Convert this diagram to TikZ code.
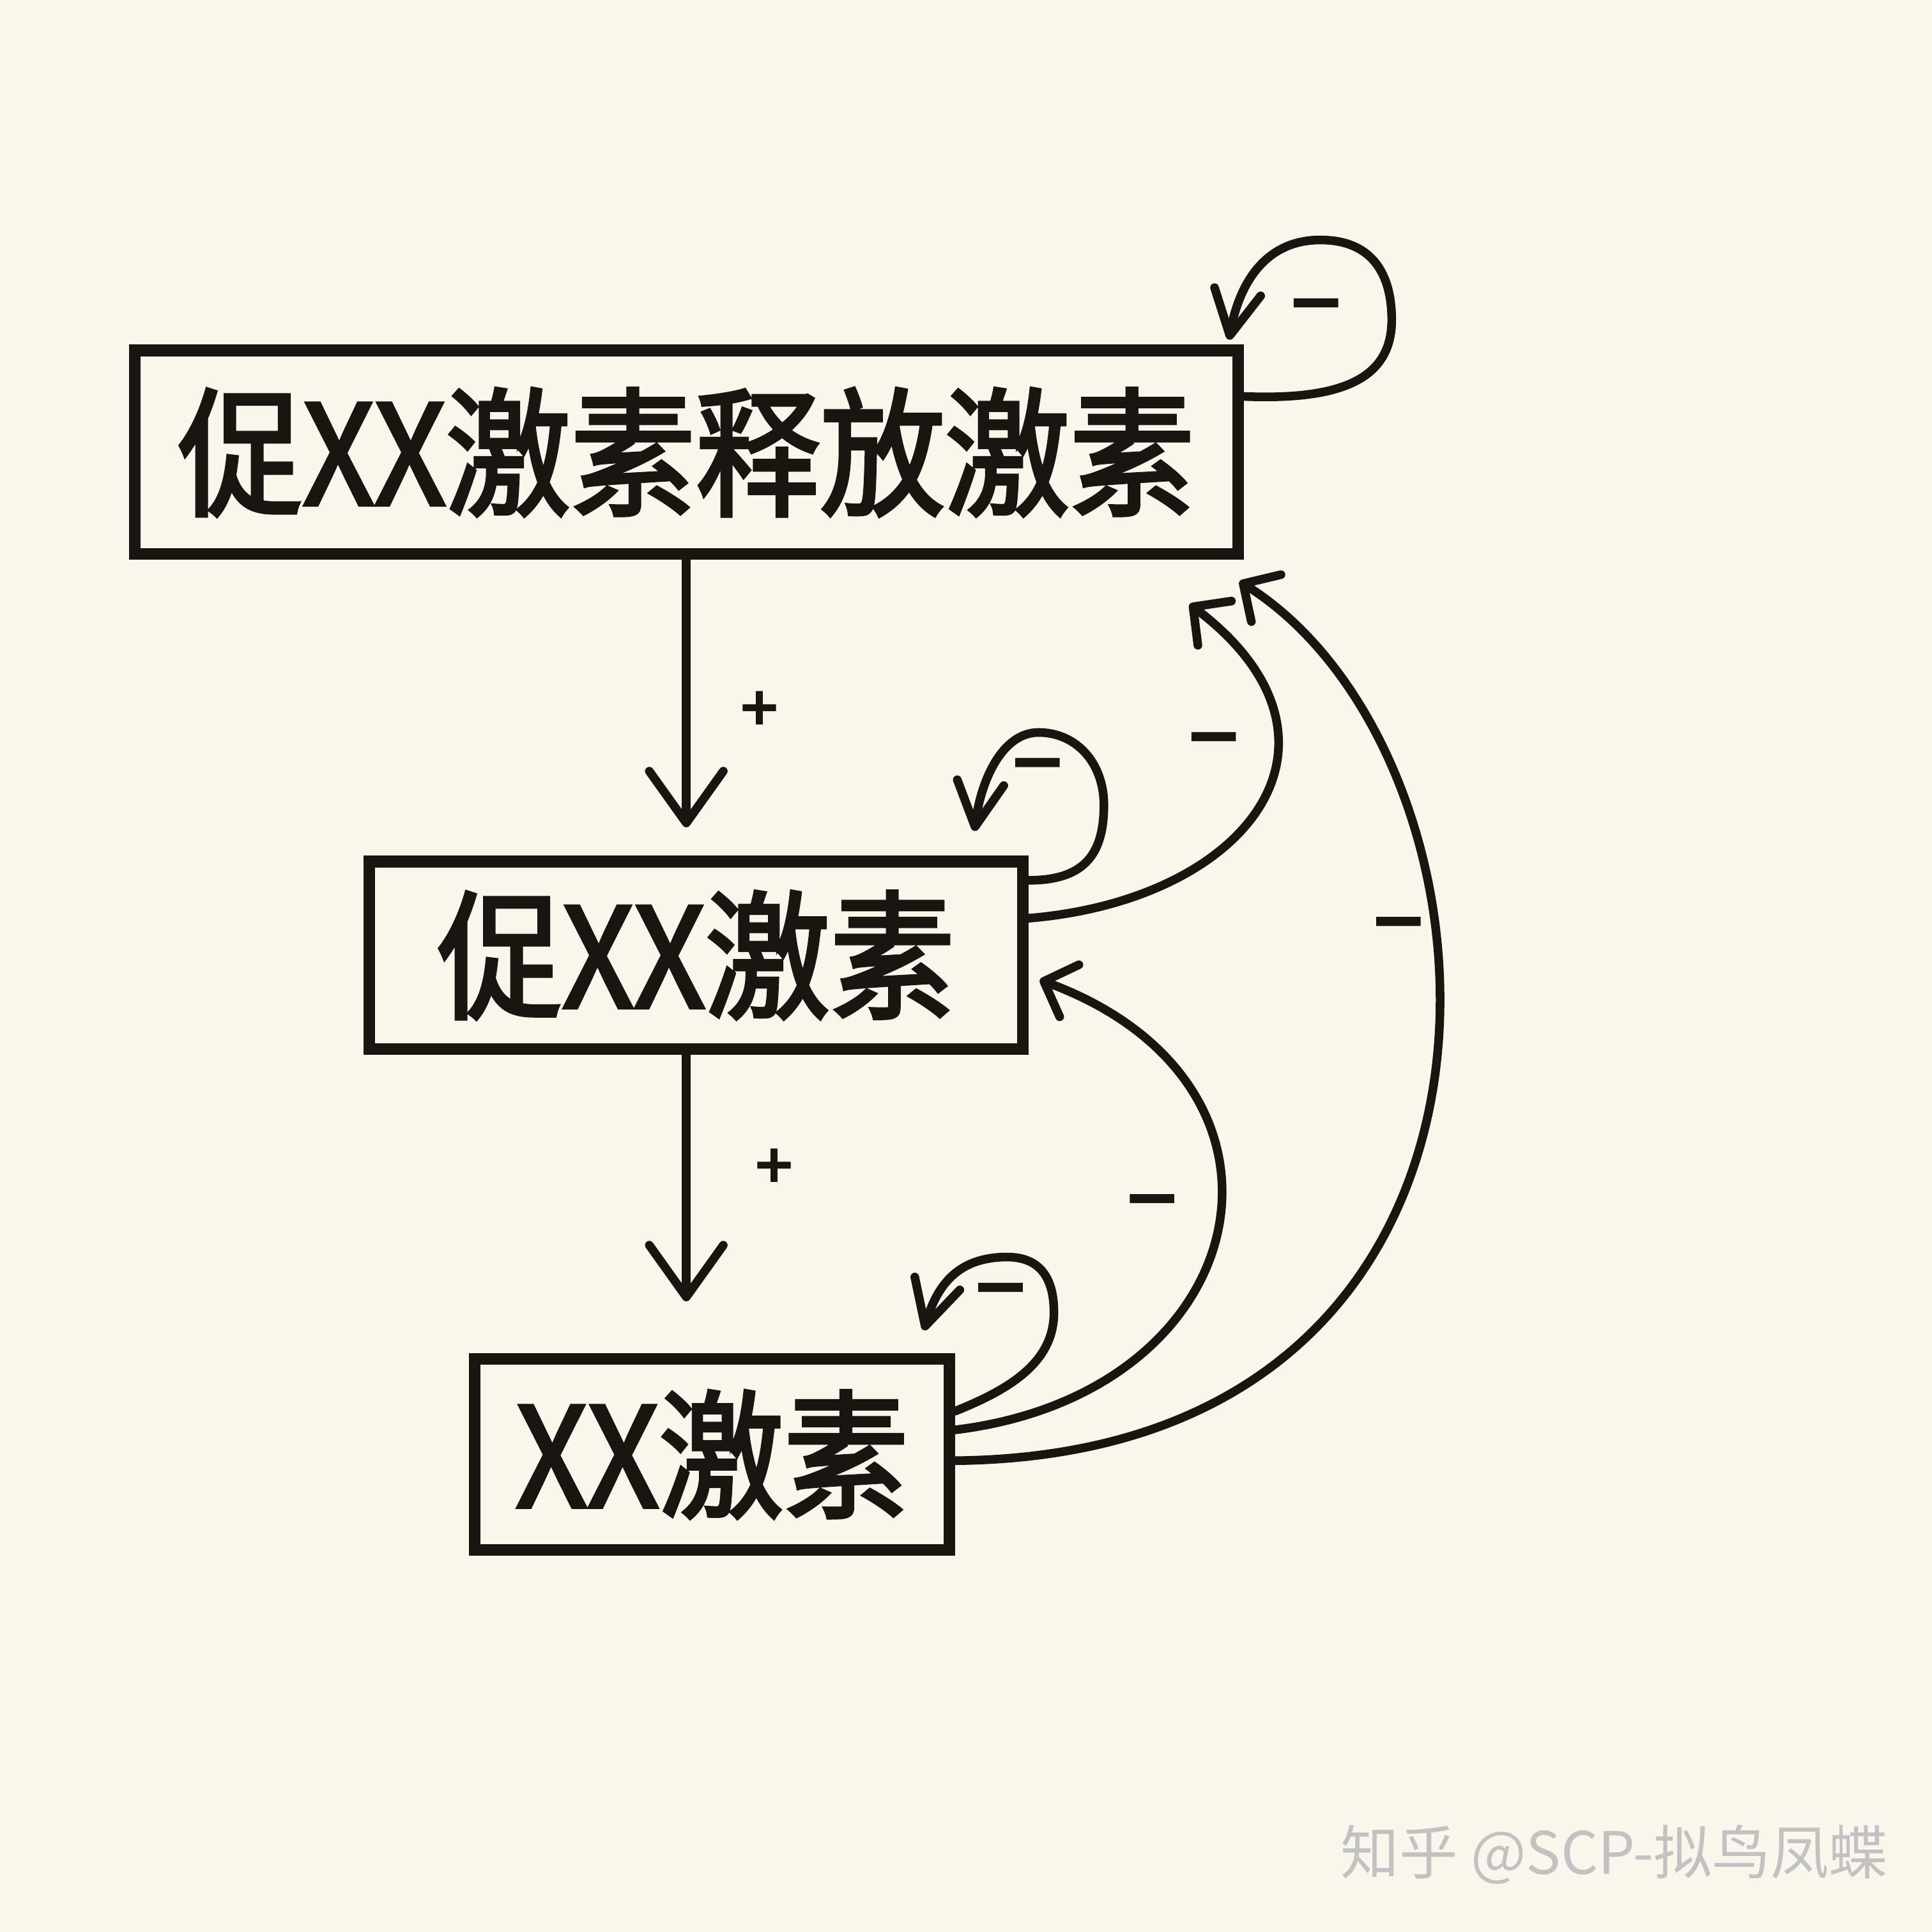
\documentclass[tikz,border=0pt]{standalone}
\usepackage{fontspec}
\usetikzlibrary{arrows.meta, positioning}
\newfontfamily\handfont{Noto Sans CJK SC}[FakeStretch=0.9, FakeBold=2.5]
\newfontfamily\cjk{Noto Sans CJK SC}
\newfontfamily\signfont{DejaVu Sans}[BoldFeatures={FakeBold=1.5}]
\definecolor{paper}{HTML}{FBF6EC}
\definecolor{ink}{HTML}{1B1512}
\definecolor{markgray}{HTML}{C2C2C2}

\begin{document}
\begin{tikzpicture}[
  x=0.01cm, y=-0.01cm,
  box/.style={
    rectangle, draw=ink, line width=2.7pt, inner sep=0pt,
    font=\handfont\fontsize{32}{32}\selectfont, text=ink
  },
  arrow/.style={-{Straight Barb[length=0.42cm, width=0.6cm, round]},
    line width=2pt, color=ink, line cap=round},
  fback/.style={arrow, -{Straight Barb[length=0.22cm, width=0.45cm, round]}},
  selfloop/.style={arrow, -{Straight Barb[length=0.36cm, width=0.38cm, round]}},
  sign/.style={font=\signfont\bfseries\fontsize{16}{16}\selectfont,
    text=ink, inner sep=0pt},
  plus/.style={font=\signfont\bfseries\fontsize{12}{12}\selectfont,
    text=ink, inner sep=0pt}
]

% paper
\fill[paper] (0,0) rectangle (1568,1568);

% boxes
\node[box, minimum width=8.95cm, minimum height=1.65cm] (b1) at (557,367)
      {促XX激素释放激素};
\node[box, minimum width=5.3cm, minimum height=1.52cm,
      below=2.4cm of b1, xshift=0.08cm] (b2) {促XX激素};
\node[box, minimum width=3.85cm, minimum height=1.55cm,
      below=2.42cm of b2, xshift=0.13cm] (b3) {XX激素};

% stimulating arrows
\draw[arrow, shorten >=0.23cm] (b1.south) -- (b1.south |- b2.north)
      node[plus, pos=0.5, right=0.38cm] (p1) {+};
\draw[arrow, shorten >=0.42cm] (b1.south |- b2.south) -- (b1.south |- b3.north)
      node[plus, pos=0.37, right=0.5cm] (p2) {+};

% feedback
\draw[fback] ([yshift=0.3cm]b2.east)
      .. controls +(180,-15) and +(145,110) .. ([xshift=-0.44cm,yshift=-0.36cm]b1.south east);
\draw[fback] ([yshift=0.2cm]b3.east)
      .. controls +(245,-30) and +(230,85) .. ([xshift=0.09cm,yshift=-0.2cm]b2.east);
\draw[fback] ([yshift=-0.05cm]b3.east)
      .. controls +(495,-5) and +(230,145) .. ([xshift=-0.035cm,yshift=-0.175cm]b1.south east);

% self loops
\draw[selfloop] ([yshift=-0.42cm]b1.north east)
      .. controls +(75,3) and +(0,50) .. ++(120,-62)
      .. controls +(0,-40) and +(40,0) .. ++(-58,-65)
      .. controls +(-45,0) and +(8,-45) .. ([xshift=-0.12cm,yshift=0.04cm]b1.north east);
\draw[selfloop] ([yshift=-0.2cm]b2.north east)
      .. controls +(45,0) and +(0,40) .. ++(61,-61)
      .. controls +(0,-35) and +(30,0) .. ++(-53,-59)
      .. controls +(-30,0) and +(5,-40) .. ([xshift=-0.44cm,yshift=0.2cm]b2.north east);
\draw[selfloop] ([yshift=-0.47cm]b3.north east)
      .. controls +(45,-18) and +(0,40) .. ++(80,-80)
      .. controls +(0,-30) and +(25,0) .. ++(-38,-45)
      .. controls +(-35,0) and +(12,-42) .. ([xshift=-0.255cm,yshift=0.185cm]b3.north east);

% minus signs
\node[sign] (m1) at (1068,253) {−};
\node[sign] (m2) at (842,626) {−};
\node[sign] (m3) at (812,1052) {−};
\node[sign] (m4) at (985,605) {−};
\node[sign] (m5) at (935,980) {−};
\node[sign] (m6) at (1135,755) {−};

% watermark
\node[font=\cjk\fontsize{13.5}{13.5}\selectfont, text=markgray] (wm) at (1310,1505)
      {知乎 @SCP-拟鸟凤蝶};

\end{tikzpicture}
\end{document}
